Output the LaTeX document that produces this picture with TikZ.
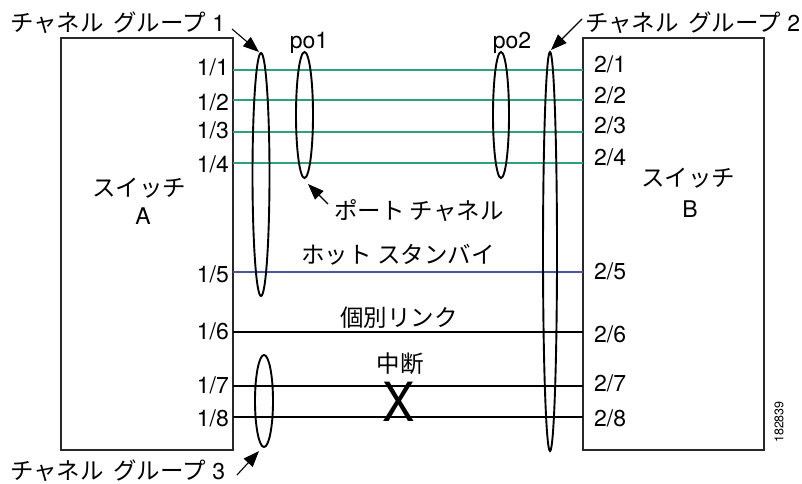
\documentclass[tikz,border=0pt]{standalone}
\usepackage{fontspec}
\setmainfont{TeX Gyre Heros}
\newfontfamily\jp{Noto Sans CJK JP}
\usetikzlibrary{shapes.geometric,arrows.meta}
\definecolor{grn}{RGB}{45,160,125}
\definecolor{blu}{RGB}{75,85,165}
\definecolor{edge}{RGB}{40,40,40}
\newcommand{\jtext}[1]{{\jp\fontsize{23.5}{26}\selectfont #1}}
\newcommand{\jsp}{\hspace{0.4em}}
\begin{document}
\begin{tikzpicture}[x=1pt,y=-1pt,
  lat/.style={font=\fontsize{23}{26}\selectfont,inner sep=0},
  sw/.style={draw=edge,line width=1.4pt,inner sep=0},
  grp/.style={draw,ellipse,line width=1.9pt,inner sep=0},
  lnk/.style={line width=1.3pt},
  arr/.style={line width=1.1pt,-{Triangle[length=16pt,width=12pt]}}]
\useasboundingbox (0,0) rectangle (802,483);
% switches
\node[sw,minimum width=172pt,minimum height=412pt] (A) at (147,244) {};
\node[sw,minimum width=181pt,minimum height=412pt] (B) at (673.5,244) {};
% links
\foreach \i/\y/\c in {1/70/grn,2/100/grn,3/132/grn,4/163/grn,5/272/blu,6/332/black,7/386/black,8/417/black}{
  \coordinate (a\i) at (233,\y);
  \coordinate (b\i) at (583,\y);
  \draw[lnk,\c] (a\i) -- (b\i);
}
% port labels
\foreach \i/\y in {1/75,2/110,3/138,4/172,5/282,6/339,7/393,8/426}{
  \node[lat,anchor=base east] (la\i) at (229,\y) {1/\i};
}
\foreach \i/\y in {1/72,2/103,3/133,4/165,5/279,6/342,7/391,8/426}{
  \node[lat,anchor=base west] (lb\i) at (594,\y) {2/\i};
}
% groups
\node[grp,minimum width=17pt,minimum height=243pt] (cg1) at (261,174.5) {};
\node[grp,minimum width=17pt,minimum height=126pt] (po1) at (304.5,115) {};
\node[grp,minimum width=16pt,minimum height=126pt] (po2) at (501,115) {};
\node[grp,minimum width=14pt,minimum height=399pt] (cg2) at (550,251.5) {};
\node[grp,minimum width=18pt,minimum height=92pt] (cg3) at (264,401) {};
% labels
\node[lat,anchor=base west] (t1) at (10,31) {\jtext{チャネル\jsp グループ} 1};
\node[lat,anchor=base west] (t2) at (585,31) {\jtext{チャネル\jsp グループ} 2};
\node[lat,anchor=base west] (t3) at (10,479) {\jtext{チャネル\jsp グループ} 3};
\node[lat,anchor=base] (lpo1) at (309,48) {po1};
\node[lat,anchor=base] (lpo2) at (512,48) {po2};
\node[lat,anchor=base west] (tpc) at (334,219) {\jtext{ポート チャネル}};
\node[lat] (swA) at (139,188) {\jtext{スイッチ}};
\node[lat] (swAl) at (143,216) {A};
\node[lat] (swB) at (688,178) {\jtext{スイッチ}};
\node[lat] (swBl) at (690,209) {B};
\node[lat] (hs) at (398,255) {\jtext{ホット スタンバイ}};
\node[lat] (il) at (399,318) {\jtext{個別リンク}};
\node[lat] (cd) at (400,364) {\jtext{中断}};
\node[inner sep=0,font=\fontsize{54}{56}\selectfont,xscale=0.9] (X) at (398.5,402) {X};
\node[inner sep=0,font=\fontsize{12.5}{14}\selectfont,rotate=90] (num) at (779,422) {182839};
% arrows
\coordinate (c1s) at (232,29); \coordinate (c1e) at (259,52);
\coordinate (c2s) at (582,19); \coordinate (c2e) at (551,50);
\coordinate (c3s) at (237,475); \coordinate (c3e) at (259,451);
\coordinate (pcs) at (328,204); \coordinate (pce) at (308,184);
\draw[arr] (c1s) -- (c1e);
\draw[arr] (c2s) -- (c2e);
\draw[arr] (c3s) -- (c3e);
\draw[arr] (pcs) -- (pce);
\end{tikzpicture}
\end{document}
